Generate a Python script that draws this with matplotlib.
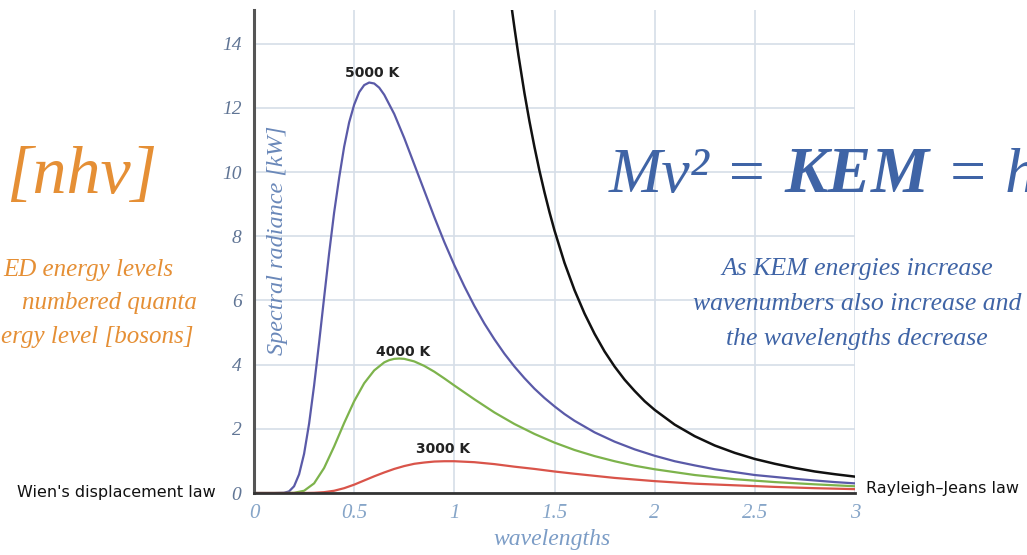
#!/usr/bin/env python
"""
Black body curves (Planck) against the Rayleigh-Jeans law, with the
surrounding annotation text of the original slide.
"""
import matplotlib
matplotlib.use("Agg")
import matplotlib.pyplot as plt

W, H = 1027, 555

# curve values
wl_5000 = [0.0, 0.10, 0.15, 0.175, 0.20, 0.225, 0.25, 0.275, 0.30, 0.325, 0.35,
           0.375, 0.40, 0.425, 0.45, 0.475, 0.50, 0.525, 0.55, 0.575, 0.60,
           0.625, 0.65, 0.70, 0.75, 0.80, 0.85, 0.90, 0.95, 1.0, 1.05, 1.1,
           1.15, 1.2, 1.25, 1.3, 1.35, 1.4, 1.45, 1.5, 1.55, 1.6, 1.7, 1.8,
           1.9, 2.0, 2.1, 2.2, 2.3, 2.4, 2.5, 2.6, 2.7, 2.8, 2.9, 3.0]
rad_5000 = [0.0, 0.0, 0.007, 0.05, 0.21, 0.58, 1.22, 2.16, 3.35, 4.69, 6.09,
            7.47, 8.74, 9.82, 10.79, 11.55, 12.10, 12.49, 12.71, 12.79, 12.76,
            12.63, 12.41, 11.81, 11.06, 10.24, 9.42, 8.60, 7.82, 7.10, 6.44,
            5.83, 5.28, 4.79, 4.34, 3.94, 3.58, 3.25, 2.96, 2.70, 2.46, 2.25,
            1.89, 1.60, 1.36, 1.16, 0.99, 0.86, 0.74, 0.65, 0.56, 0.50, 0.44,
            0.39, 0.34, 0.30]

wl_4000 = [0.0, 0.15, 0.20, 0.25, 0.30, 0.35, 0.40, 0.45, 0.50, 0.55, 0.60,
           0.65, 0.675, 0.70, 0.725, 0.75, 0.775, 0.80, 0.85, 0.90, 0.95, 1.0,
           1.1, 1.2, 1.3, 1.4, 1.5, 1.6, 1.7, 1.8, 1.9, 2.0, 2.2, 2.4, 2.6,
           2.8, 3.0]
rad_4000 = [0.0, 0.0, 0.006, 0.07, 0.30, 0.78, 1.45, 2.18, 2.86, 3.42, 3.82,
            4.07, 4.14, 4.18, 4.19, 4.18, 4.14, 4.10, 3.96, 3.78, 3.57, 3.35,
            2.92, 2.51, 2.15, 1.84, 1.57, 1.34, 1.15, 0.99, 0.85, 0.74, 0.56,
            0.43, 0.34, 0.27, 0.21]

wl_3000 = [0.0, 0.25, 0.30, 0.35, 0.40, 0.45, 0.50, 0.55, 0.60, 0.65, 0.70,
           0.75, 0.80, 0.85, 0.90, 0.95, 1.0, 1.1, 1.2, 1.3, 1.4, 1.5, 1.6,
           1.8, 2.0, 2.2, 2.4, 2.6, 2.8, 3.0]
rad_3000 = [0.0, 0.0, 0.006, 0.026, 0.07, 0.15, 0.26, 0.39, 0.52, 0.64, 0.75,
            0.84, 0.91, 0.95, 0.98, 0.99, 0.99, 0.96, 0.90, 0.82, 0.75, 0.67,
            0.60, 0.47, 0.37, 0.29, 0.24, 0.19, 0.15, 0.12]

wl_rj = [1.27, 1.28, 1.29, 1.3, 1.32, 1.35, 1.375, 1.4, 1.425, 1.45, 1.475,
         1.5, 1.55, 1.6, 1.65, 1.7, 1.75, 1.8, 1.85, 1.9, 1.95, 2.0, 2.1,
         2.2, 2.3, 2.4, 2.5, 2.6, 2.7, 2.8, 2.9, 3.0]
rad_rj = [15.92, 15.42, 14.95, 14.5, 13.64, 12.46, 11.58, 10.78, 10.04, 9.37,
          8.75, 8.18, 7.17, 6.32, 5.59, 4.96, 4.41, 3.94, 3.53, 3.18, 2.86,
          2.59, 2.13, 1.77, 1.48, 1.25, 1.06, 0.91, 0.78, 0.67, 0.585, 0.51]

x_ticks = [0, 0.5, 1, 1.5, 2, 2.5, 3]
x_labels = ["0", "0.5", "1", "1.5", "2", "2.5", "3"]
y_ticks = [0, 2, 4, 6, 8, 10, 12, 14]
curve_labels = ["5000 K", "4000 K", "3000 K"]
blue_lines = ["As KEM energies increase",
              "wavenumbers also increase and",
              "the wavelengths decrease"]

SERIF = ["Liberation Serif", "DejaVu Serif"]
SANS = ["DejaVu Sans"]
ORANGE = "#e58f35"
BLUE = "#3f64a6"


def fx(px):
    return px / W


def fy(py):
    return 1 - py / H


fig = plt.figure(figsize=(W / 100, H / 100), dpi=100)
ax = fig.add_axes([fx(254), fy(493), fx(855) - fx(254), (493 - 10) / H])

ax.plot(wl_5000, rad_5000, color="#5a5aa8", lw=1.6)
ax.plot(wl_4000, rad_4000, color="#7db34c", lw=1.6)
ax.plot(wl_3000, rad_3000, color="#d9544a", lw=1.6)
ax.plot(wl_rj, rad_rj, color="#111111", lw=1.8)

ax.set_xlim(0, 3)
ax.set_ylim(0, 15.05)
ax.set_xticks(x_ticks)
ax.set_xticklabels(x_labels)
ax.set_yticks(y_ticks)
ax.grid(True, color="#d6dee8", lw=1.2)
ax.set_axisbelow(True)
for s in ["top", "right"]:
    ax.spines[s].set_visible(False)
ax.spines["left"].set_color("#555555")
ax.spines["left"].set_linewidth(2.2)
ax.spines["bottom"].set_color("#333333")
ax.spines["bottom"].set_linewidth(2.0)
ax.tick_params(length=0)
ax.tick_params(axis="x", pad=8, labelcolor="#86a5c8", labelsize=15)
ax.tick_params(axis="y", pad=9, labelcolor="#607595", labelsize=14)
for lab in ax.get_xticklabels() + ax.get_yticklabels():
    lab.set_family(SERIF)
    lab.set_style("italic")

fig.text(fx(278), fy(240), "Spectral radiance [kW]", rotation=90,
         ha="center", va="center", family=SERIF, style="italic",
         fontsize=17.5, color="#6a88b9")
fig.text(fx(552), fy(539), "wavelengths", ha="center", va="center",
         family=SERIF, style="italic", fontsize=17, color="#7b9cc6")

# curve labels
label_pos = [(0.59, 13.1), (0.745, 4.4), (0.945, 1.37)]
for (lx, ly), txt in zip(label_pos, curve_labels):
    ax.text(lx, ly, txt, ha="center", va="center", family=SANS,
            weight="bold", fontsize=10, color="#222222")

fig.text(fx(216), fy(492), "Wien's displacement law", ha="right",
         va="center", family=SANS, fontsize=11.5, color="#111111")
fig.text(fx(866), fy(489), "Rayleigh\u2013Jeans law", ha="left",
         va="center", family=SANS, fontsize=11.5, color="#111111")

# orange text on the left
fig.text(fx(157), fy(176), "[nh\u03bd]", ha="right", va="center",
         family=SERIF, style="italic", fontsize=49, color=ORANGE)
fig.text(fx(3), fy(270), "ED energy levels", ha="left", va="center",
         family=SERIF, style="italic", fontsize=18, color=ORANGE)
fig.text(fx(22), fy(303), "numbered quanta", ha="left", va="center",
         family=SERIF, style="italic", fontsize=18, color=ORANGE)
fig.text(fx(1), fy(337), "ergy level [bosons]", ha="left", va="center",
         family=SERIF, style="italic", fontsize=18, color=ORANGE)

# blue equation, drawn piece by piece
fig.canvas.draw()
renderer = fig.canvas.get_renderer()
x_pos = 609
pieces = [("M\u03bd\u00b2 = ", "normal", 46), ("KEM", "bold", 47),
          (" = h", "normal", 46)]
for txt, weight, size in pieces:
    t = fig.text(fx(x_pos), fy(192), txt, ha="left", va="baseline",
                 family=SERIF, style="italic", weight=weight, fontsize=size,
                 color=BLUE)
    bb = t.get_window_extent(renderer)
    x_pos += bb.width

for i, line in enumerate(blue_lines):
    fig.text(fx(857), fy(269 + 35 * i), line, ha="center", va="center",
             family=SERIF, style="italic", fontsize=18.5, color=BLUE)

fig.savefig("out.png", dpi=100)
